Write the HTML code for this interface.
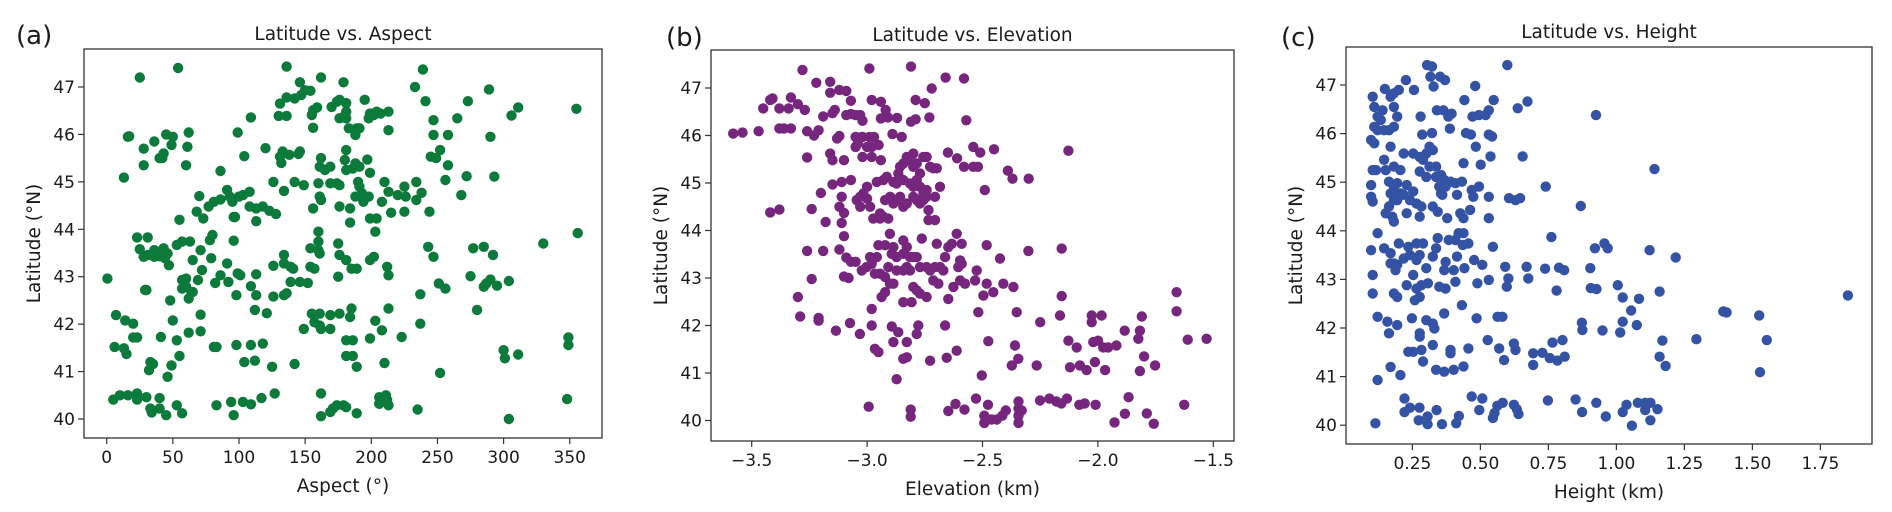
<!DOCTYPE html>
<html><head><meta charset="utf-8"><style>
html,body{margin:0;padding:0;background:#fff}
svg{display:block}
text{font-family:"DejaVu Sans","Liberation Sans",sans-serif;fill:#1a1a1a}
</style></head><body>
<svg id="fig" width="1892" height="512" viewBox="0 0 1892 512" xmlns="http://www.w3.org/2000/svg"></svg>
<script>
const aspectLatA = [[25,47.2],[54,47.4],[136,47.43],[146,47.1],[162,47.2],[179,47.1],[233,47.0],[239,47.37],[241,46.7],[273,46.7],[289,46.95],[306,46.4],[311,46.57],[355,46.54],[356,43.92],[349,41.56],[349,41.72],[348,40.42],[304,40.0],[330,43.7],
[16,45.95],[17,45.96],[13,45.09],[28,45.7],[28,45.35],[36,45.85],[45,46.0],[50,45.95],[49,45.78],[40,45.5],[43,45.6],[42,45.5],[62,46.04],[61,45.74],[60,45.35],
[23,43.83],[31,43.83],[25,43.58],[28,43.42],[31,43.46],[36,43.56],[36,43.42],[43,43.6],[46,43.49],[47,43.24],[44,43.39],[40,43.43],[29,42.72],[30,42.72],
[55,44.2],[53,43.67],[57,43.74],[63,43.74],[57,42.93],[60,42.96],[64,42.67],[62,42.54],[65,42.68],[57,42.75],[60,42.79],[48,42.5],[70,44.7],[68,44.37],[73,44.23],[71,43.56],[72,43.14],[69,42.93],[65,43.35],[79,43.39],[78,43.77],[80,43.88],
[50,42.08],[53,41.66],[55,41.33],[7,42.19],[14,42.08],[20,42.01],[6,41.52],[13,41.49],[15,41.37],[20,41.72],[23,41.72],[41,41.73],[71,42.2],[71,41.85],[62,41.82],[33,41.2],[35,41.16],[32,41.03],[49,41.13],[46,40.89],
[5,40.41],[10,40.5],[16,40.5],[23,40.54],[23,40.41],[30,40.46],[40,40.44],[33,40.22],[40,40.22],[45,40.08],[53,40.29],[57,40.12],[34,40.14],[0.5,42.96],
[83,40.29],[94,40.36],[96,40.08],[103,40.36],[109,40.31],[117,40.44],[127,40.54],[162,40.54],[162,40.06],[171,40.22],[174,40.29],[179,40.29],[181,40.25],[169,40.15],[189,40.12],[206,40.46],[211,40.5],[212,40.4],[213,40.29],[206,40.32],[235,40.2],
[81,41.52],[83,41.52],[98,41.56],[109,41.56],[118,41.59],[104,41.2],[112,41.23],[125,41.1],[142,41.16],
[98,42.61],[113,42.61],[112,42.3],[121,42.23],[126,42.58],[134,42.61],[136,42.65],[109,42.8],[113,43.05],[99,43.07],[101,43.03],[86,43.03],[82,42.87],[92,42.89],[91,43.28],[96,43.76],[126,43.23],[134,43.46],[134,43.28],[139,43.21],[141,43.17],[139,42.89],[146,42.89],[152,42.87],[154,43.21],[157,43.17],[154,43.6],[160,43.56],[161,43.49],[160,43.74],[160,43.95],[175,43.7],[176,43.46],[181,43.35],[185,43.17],[189,43.17],[175,43.0],[199,43.35],[202,43.42],[212,43.21],[213,43.03],[243,43.63],[247,43.42],[237,42.63],[251,42.86],[256,42.75],[275,43.01],[277,43.6],[285,43.63],[292,43.46],[285,42.79],[287,42.86],[290,42.94],[295,42.81],[304,42.91],[280,42.3],[300,41.45],[301,41.28],[311,41.36],[252,40.97],[237,42.01],[223,41.73],[213,42.33],[208,41.87],[203,42.07],[199,41.7],[210,41.18],[185,42.33],[184,42.15],[176,42.22],[169,42.19],[161,42.22],[155,42.22],[157,42.04],[161,41.97],[162,41.9],[169,41.9],[149,41.9],[181,41.66],[186,41.66],[181,41.33],[186,41.33],[189,41.1],
[77,44.48],[81,44.58],[86,44.63],[91,44.83],[95,44.58],[93,44.69],[100,44.69],[103,44.72],[108,44.79],[108,44.48],[86,45.23],[104,45.54],[99,46.04],[109,46.36],[96,44.26],[97,44.26],[113,44.44],[118,44.48],[123,44.39],[128,44.32],[113,44.17],[120,45.71],[126,45.0],[134,44.81],[131,45.53],[132,45.4],[133,45.64],[138,45.57],[145,45.59],[146,45.64],[142,45.0],[149,44.93],[130,46.39],[136,46.39],[131,46.65],[136,46.78],[142,46.76],[147,46.83],[150,46.93],[154,46.92],[155,46.41],[156,46.51],[159,46.57],[156,46.14],[156,44.44],[162,44.62],[161,44.69],[160,44.97],[161,45.32],[162,45.5],[165,45.25],[169,45.32],[169,44.97],[174,44.97],[176,44.93],[176,44.48],[170,46.58],[174,46.69],[176,46.73],[181,46.66],[181,46.48],[181,46.34],[179,46.37],[176,46.34],[183,46.13],[189,46.13],[188,45.99],[191,46.13],[181,45.67],[180,45.46],[181,45.25],[186,45.28],[188,45.39],[191,45.32],[190,45.0],[191,44.9],[188,44.69],[193,44.76],[194,44.58],[198,44.69],[184,44.44],[184,44.14],[195,46.73],[199,46.44],[202,46.41],[204,46.48],[207,46.44],[213,46.48],[198,46.34],[213,46.09],[197,45.47],[199,45.19],[210,45.0],[213,44.79],[208,44.58],[215,44.35],[199,44.23],[204,44.23],[203,43.95],[220,44.72],[225,44.9],[226,44.69],[225,44.37],[234,45.0],[234,44.62],[238,44.77],[244,44.37],[247,46.3],[247,45.99],[258,45.99],[245,45.53],[252,45.67],[249,45.5],[258,45.35],[256,45.04],[265,46.34],[268,44.72],[272,45.12],[290,45.95],[293,45.11]];

const elevLatB = [[-3.58,46.04],[-3.54,46.06],[-3.47,46.09],[-3.45,46.57],[-3.42,46.75],[-3.41,46.78],[-3.38,46.57],[-3.42,44.38],[-3.38,44.44],[-3.38,46.15],[-3.36,46.15],[-3.33,46.15],[-3.34,46.57],[-3.33,46.8],[-3.30,46.66],[-3.27,46.54],[-3.28,47.38],[-3.26,46.09],[-3.23,46.0],[-3.21,46.11],[-3.26,45.54],[-3.24,44.45],[-3.30,42.6],[-3.29,42.19],[-3.26,43.57],[-3.19,43.57],[-3.24,42.98],[-3.21,42.16],[-3.21,42.1],[-3.22,47.11],[-3.16,47.13],[-3.16,46.9],[-3.12,46.96],[-3.09,46.94],[-3.07,46.73],[-3.19,46.4],[-3.15,46.47],[-3.14,46.54],[-3.09,46.43],[-3.07,46.45],[-3.05,46.43],[-3.03,46.43],[-3.02,46.31],[-3.13,45.94],[-3.12,45.99],[-3.05,45.97],[-3.02,45.97],[-3.16,45.62],[-3.15,45.48],[-3.10,45.48],[-3.2,44.79],[-3.15,44.97],[-3.11,45.02],[-3.07,45.06],[-3.11,44.71],[-3.12,44.5],[-3.10,44.37],[-3.11,44.16],[-3.10,43.88],[-3.12,43.6],[-3.18,44.18],[-3.09,43.43],[-3.07,43.34],[-3.05,43.34],[-3.10,43.03],[-3.08,43.0],[-3.03,45.96],[-3.05,45.76],[-3.04,45.83],[-3.02,45.55],[-2.98,45.55],[-3.0,45.76],[-2.98,45.76],[-2.95,45.8],[-2.97,45.97],[-2.99,45.97],[-2.99,47.41],[-2.98,46.75],[-2.94,46.71],[-2.92,46.54],[-2.94,46.36],[-2.91,46.38],[-2.87,46.37],[-2.94,45.48],[-2.89,46.03],[-2.85,45.97],[-2.81,47.45],[-2.79,46.75],[-2.75,46.68],[-2.72,46.99],[-2.73,46.38],[-2.81,46.29],[-2.79,46.34],[-2.66,47.22],[-2.58,47.2],[-2.57,46.32],[-2.65,45.64],[-2.61,45.52],[-2.58,45.34],[-2.54,45.34],[-2.52,45.34],[-2.54,45.76],[-2.51,45.64],[-2.45,45.71],[-2.39,45.26],[-2.37,45.09],[-2.30,45.09],[-2.49,44.85],
[-3.045,44.64],[-3.03,44.71],[-3.016,44.78],[-3.0,44.67],[-3.03,44.5],[-2.987,44.5],[-3.0,44.92],[-2.958,45.02],[-2.93,45.06],[-2.915,45.13],[-2.886,45.02],[-2.872,44.99],[-2.857,45.34],[-2.843,45.41],[-2.828,45.55],[-2.814,45.48],[-2.8,45.34],[-2.785,45.41],[-2.771,45.2],[-2.756,45.55],[-2.742,45.55],[-2.727,45.34],[-2.713,45.31],[-2.698,45.31],[-2.684,44.92],[-2.814,44.99],[-2.8,44.92],[-2.785,45.06],[-2.771,44.92],[-2.756,44.78],[-2.742,44.85],[-2.8,44.71],[-2.785,44.64],[-2.771,44.57],[-2.756,44.64],[-2.742,44.71],[-2.828,44.57],[-2.857,44.71],[-2.872,44.64],[-2.886,44.57],[-2.9,44.71],[-2.922,44.64],[-2.843,44.5],[-2.843,45.06],[-2.865,45.2],[-2.8,45.62],[-2.734,44.43],[-2.734,44.22],[-2.706,44.22],[-2.706,44.71],[-2.944,44.25],[-2.973,44.25],[-2.93,44.29],[-2.908,44.25],[-2.944,44.36],
[-2.951,43.69],[-2.922,43.69],[-2.901,43.93],[-2.893,43.51],[-2.886,43.65],[-2.872,43.44],[-2.843,43.79],[-2.828,43.65],[-2.814,43.44],[-2.8,43.44],[-2.785,43.44],[-2.763,43.83],[-2.843,43.51],[-2.828,43.23],[-2.872,43.16],[-2.843,43.16],[-2.814,43.16],[-2.771,43.23],[-2.742,43.23],[-2.727,43.16],[-2.706,43.23],[-2.684,43.23],[-2.67,43.16],[-2.662,43.44],[-2.698,43.72],[-2.648,43.65],[-2.612,43.93],[-2.633,43.72],[-2.59,43.72],[-2.597,43.37],[-2.59,43.3],[-2.605,43.23],[-2.626,42.81],[-2.597,42.95],[-2.576,42.88],[-2.532,42.95],[-2.525,43.16],[-2.648,42.56],[-2.713,42.95],[-2.691,42.88],[-2.8,42.81],[-2.785,42.74],[-2.771,42.67],[-2.742,42.6],[-2.843,42.49],[-2.807,42.49],[-2.901,42.88],[-2.886,42.88],[-2.937,42.6],[-2.922,42.7],[-2.98,42.35],[-3.002,43.23],[-3.023,43.16],[-2.98,43.3],[-2.958,43.44],[-2.987,43.44],[-2.922,43.02],[-2.944,43.09],[-2.966,43.09],[-2.908,43.23],[-2.482,43.69],[-2.424,43.41],[-2.301,43.57],[-2.482,42.88],[-2.496,42.63],[-2.453,42.7],[-2.41,42.88],[-2.366,42.81],[-2.518,42.28],[-2.352,42.28],[-2.662,42.0],[-2.612,41.47],[-2.655,41.32],[-2.727,41.26],[-2.778,42.0],[-2.785,41.82],[-2.828,41.65],[-2.828,41.33],[-2.843,41.3],[-2.886,41.65],[-2.865,41.86],[-2.893,41.98],[-2.98,42.0],[-3.031,41.82],[-3.074,42.05],[-3.135,41.89],[-2.966,41.51],[-2.951,41.44],[-2.872,40.87],[-2.503,40.95],[-2.475,41.67],[-2.359,41.58],[-2.345,41.3],[-2.373,41.16],[-2.25,42.07],[-2.265,41.16],
[-2.128,45.68],[-2.157,43.62],[-2.157,42.62],[-2.164,42.21],[-2.027,42.21],[-2.027,42.07],[-1.984,42.21],[-2.128,41.68],[-2.092,41.54],[-2.02,41.65],[-1.999,41.68],[-1.977,41.54],[-1.956,41.54],[-1.92,41.58],[-1.884,41.89],[-1.81,42.19],[-1.818,41.89],[-1.825,41.72],[-1.8,41.35],[-1.752,41.16],[-1.818,41.04],[-2.121,41.12],[-2.078,41.16],[-2.049,41.06],[-2.013,41.23],[-1.969,41.06],[-1.659,42.7],[-1.659,42.3],[-1.611,41.7],[-1.529,41.72],
[-2.993,40.29],[-2.811,40.23],[-2.811,40.08],[-2.648,40.2],[-2.617,40.35],[-2.578,40.23],[-2.528,40.46],[-2.476,40.33],[-2.492,40.1],[-2.492,39.95],[-2.461,40.02],[-2.438,40.02],[-2.414,40.1],[-2.399,40.21],[-2.344,40.4],[-2.344,40.25],[-2.344,40.1],[-2.344,39.95],[-2.33,40.21],[-2.251,40.42],[-2.21,40.46],[-2.18,40.4],[-2.158,40.36],[-2.134,40.46],[-2.08,40.33],[-2.057,40.36],[-2.01,40.33],[-1.928,39.96],[-1.883,40.14],[-1.867,40.49],[-1.788,40.15],[-1.758,39.93],[-1.626,40.33]];

const heightLatC = [[0.104,46.76],[0.11,46.55],[0.122,46.35],[0.11,46.14],[0.122,46.07],[0.098,45.87],[0.11,45.8],[0.104,45.25],[0.116,45.25],[0.098,44.94],[0.098,44.7],[0.104,44.6],[0.098,43.6],[0.104,43.09],[0.104,42.71],
[0.149,46.92],[0.14,46.48],[0.134,46.28],[0.146,46.07],[0.164,46.07],[0.182,46.14],[0.17,46.76],[0.182,46.83],[0.2,46.9],[0.182,46.55],[0.194,46.35],[0.146,45.46],[0.17,45.73],[0.152,45.25],[0.182,45.32],[0.206,45.25],[0.164,45.01],[0.182,44.91],[0.17,44.77],[0.182,44.63],[0.164,44.5],[0.194,44.63],[0.206,44.77],[0.152,44.36],[0.176,44.29],[0.182,44.19],[0.122,43.95],[0.146,43.64],[0.17,43.54],[0.182,43.33],[0.188,43.19],[0.17,43.33],[0.182,42.71],[0.194,42.64],[0.122,42.23],[0.158,42.13],[0.164,41.89],[0.194,42.06],[0.122,40.93],[0.17,41.2],[0.206,41.03],
[0.114,40.04],[0.221,40.55],[0.221,40.27],[0.241,40.36],[0.276,40.36],[0.273,40.1],[0.306,40.18],[0.306,40.02],[0.339,40.31],[0.359,40.02],[0.411,40.04],[0.421,40.19],[0.468,40.59],[0.507,40.55],[0.496,40.31],[0.546,40.15],[0.552,40.25],[0.562,40.4],[0.582,40.46],[0.623,40.42],[0.634,40.33],[0.64,40.23],[0.748,40.51],[0.85,40.53],[0.874,40.27],[0.926,40.46],[0.961,40.18],[1.023,40.27],[1.037,40.42],[1.079,40.46],[1.106,40.46],[1.106,40.31],[1.125,40.46],[1.125,40.1],[1.151,40.33],[1.057,39.99],
[0.226,47.1],[0.256,46.9],[0.28,46.35],[0.304,47.41],[0.322,47.38],[0.316,47.17],[0.328,46.97],[0.352,47.17],[0.37,47.1],[0.322,46.01],[0.286,45.98],[0.34,46.48],[0.364,46.48],[0.382,46.35],[0.394,46.41],[0.388,46.1],[0.441,46.69],[0.447,46.01],[0.465,45.98],[0.483,45.73],[0.481,46.98],[0.471,46.35],[0.495,46.38],[0.519,46.38],[0.531,46.48],[0.549,46.69],[0.531,45.98],[0.543,45.94],[0.537,45.53],[0.501,45.36],[0.495,44.91],[0.531,44.7],[0.531,44.26],[0.546,43.67],[0.591,43.26],[0.603,43.02],[0.597,42.85],[0.531,42.99],[0.489,42.92],[0.477,43.4],[0.507,43.3],[0.441,43.23],[0.435,43.71],[0.637,46.52],[0.655,45.53],[0.673,46.66],[0.599,47.41],[0.605,44.67],[0.629,44.63],[0.646,44.67],[0.676,43.02],[0.67,43.26],[0.694,41.48],[0.694,41.24],
[0.218,45.59],[0.253,45.59],[0.277,45.52],[0.301,45.59],[0.313,45.73],[0.325,45.66],[0.289,45.46],[0.313,45.32],[0.277,45.22],[0.301,45.11],[0.337,45.32],[0.337,45.11],[0.355,45.15],[0.367,45.05],[0.372,44.91],[0.39,45.01],[0.349,44.91],[0.355,44.77],[0.408,44.98],[0.432,45.01],[0.438,45.39],[0.36,44.74],[0.414,44.74],[0.468,44.84],[0.474,44.7],[0.253,44.81],[0.241,44.63],[0.265,44.56],[0.283,44.5],[0.229,44.36],[0.277,44.29],[0.325,44.5],[0.343,44.39],[0.378,44.26],[0.426,44.36],[0.438,44.26],[0.462,44.43],[0.218,44.74],[0.229,44.94],[0.194,44.98],
[0.2,43.74],[0.235,43.67],[0.265,43.74],[0.289,43.74],[0.241,43.5],[0.265,43.4],[0.218,43.43],[0.194,43.3],[0.277,43.5],[0.301,43.23],[0.253,43.09],[0.229,42.88],[0.265,42.81],[0.283,42.88],[0.307,42.92],[0.277,42.64],[0.259,42.57],[0.343,43.85],[0.337,43.64],[0.325,43.47],[0.372,43.36],[0.367,43.19],[0.384,43.81],[0.408,43.81],[0.42,43.95],[0.438,43.95],[0.456,43.74],[0.414,43.47],[0.402,43.19],[0.349,42.85],[0.372,42.81],[0.408,42.95],[0.432,42.47],[0.367,42.3],[0.248,42.2],[0.277,41.89],[0.277,41.82],[0.301,42.16],[0.325,42.09],[0.331,41.99],[0.235,41.51],[0.253,41.51],[0.283,41.55],[0.289,41.31],[0.325,41.65],[0.39,41.55],[0.39,41.48],[0.337,41.14],[0.367,41.1],[0.402,41.14],[0.438,41.21],[0.456,41.58],[0.486,42.2],[0.527,41.75],[0.569,41.58],[0.587,41.34],[0.623,41.68],[0.629,41.55],[0.563,42.23],[0.581,42.23],
[0.925,46.38],[0.74,44.91],[1.14,45.27],[0.869,44.51],[0.761,43.87],[0.921,43.64],[0.956,43.74],[0.968,43.64],[1.122,43.6],[1.218,43.45],[0.738,43.22],[0.789,43.24],[0.808,43.19],[0.904,43.23],[0.78,42.77],[0.906,42.82],[0.927,42.8],[1.005,42.88],[1.023,42.63],[1.083,42.6],[1.054,42.36],[1.159,42.75],[1.851,42.67],[1.393,42.34],[1.405,42.32],[1.525,42.26],[0.873,42.11],[0.875,41.96],[0.949,41.95],[1.014,41.91],[1.023,42.13],[1.075,42.06],[1.169,41.74],[1.294,41.77],[1.553,41.75],[0.765,41.7],[0.802,41.75],[0.728,41.49],[0.755,41.38],[0.783,41.33],[0.81,41.41],[1.159,41.41],[1.181,41.22],[1.528,41.09]];

const latTicks = [40,41,42,43,44,45,46,47];
const aspectTicks = [0,50,100,150,200,250,300,350];
const elevTicks = [-3.5,-3.0,-2.5,-2.0,-1.5];
const heightTicks = [0.25,0.5,0.75,1.0,1.25,1.5,1.75];

const NS = 'http://www.w3.org/2000/svg';
const svg = document.getElementById('fig');
function mk(tag, attrs, parent, txt){
  const e = document.createElementNS(NS, tag);
  for (const k in attrs) e.setAttribute(k, attrs[k]);
  if (txt !== undefined) e.textContent = txt;
  (parent||svg).appendChild(e);
  return e;
}
function fmtMinus(s){ return s.replace('-', '\u2212'); }

function panel(p){
  const g = mk('g', {});
  
  
  const xs = v => p.x0px + (v - p.x0v) * p.xk;
  const ys = v => p.y47 + (47 - v) * p.yk;
  // points
  const pg = mk('g', {}, g);
  
  
  p.data.forEach(d => {
    const c = mk('circle', {cx: xs(d[0]).toFixed(1), cy: ys(d[1]).toFixed(1), r: 5.2, fill: p.color}, pg);
    
    
  });
  // frame
  const fr = mk('rect', {x:p.L, y:p.T, width:p.R-p.L, height:p.B-p.T, fill:'none', stroke:'#333', 'stroke-width':1.3}, g);
  
  
  // y ticks
  latTicks.forEach(t => {
    const y = ys(t);
    mk('line', {x1:p.L-6, x2:p.L, y1:y, y2:y, stroke:'#333', 'stroke-width':1.2}, g);
    const tl = mk('text', {x:p.L-9, y:y+6, 'text-anchor':'end', 'font-size':17}, g, String(t));
    
    
  });
  // x ticks
  p.xticks.forEach(t => {
    const x = xs(t);
    mk('line', {x1:x, x2:x, y1:p.B, y2:p.B+6, stroke:'#333', 'stroke-width':1.2}, g);
    const tl = mk('text', {x:x, y:p.B+25, 'text-anchor':'middle', 'font-size':17}, g, p.fmt(t));
    
    
  });
  const cx = (p.L + p.R) / 2;
  const title = mk('text', {x:cx, y:p.T-9, 'text-anchor':'middle', 'font-size':18.5}, g, p.title);
  
  
  const xl = mk('text', {x:cx, y:p.B+54, 'text-anchor':'middle', 'font-size':18.5}, g, p.xlabel);
  
  
  const ycy = (p.T + p.B) / 2;
  const yl = mk('text', {x:p.ylx, y:ycy, 'text-anchor':'middle', 'font-size':18.5, transform:'rotate(-90 '+p.ylx+' '+ycy+')'}, g, 'Latitude (°N)');
  
  
  const lt = mk('text', {x:p.lx, y:p.ly, 'font-size':26}, g, p.letter);
  
  
}

panel({name:'panel-a-aspect', data:aspectLatA, color:'#0b7a3b', L:84, R:602, T:49, B:438,
  x0v:0, x0px:106.7, xk:1.323, y47:87, yk:47.43, xticks:aspectTicks, fmt:t=>String(t),
  title:'Latitude vs. Aspect', xlabel:'Aspect (°)', ylx:40, letter:'(a)', lx:16, ly:44});
panel({name:'panel-b-elevation', data:elevLatB, color:'#77267e', L:711, R:1234, T:50, B:441,
  x0v:-3.5, x0px:751.7, xk:230.8, y47:88, yk:47.5, xticks:elevTicks, fmt:t=>fmtMinus(t.toFixed(1)),
  title:'Latitude vs. Elevation', xlabel:'Elevation (km)', ylx:667, letter:'(b)', lx:666, ly:46});
panel({name:'panel-c-height', data:heightLatC, color:'#3553a5', L:1346, R:1872, T:47, B:444,
  x0v:0.25, x0px:1412.4, xk:272, y47:85, yk:48.6, xticks:heightTicks, fmt:t=>t.toFixed(2),
  title:'Latitude vs. Height', xlabel:'Height (km)', ylx:1302, letter:'(c)', lx:1281, ly:46});
</script>
</body></html>
